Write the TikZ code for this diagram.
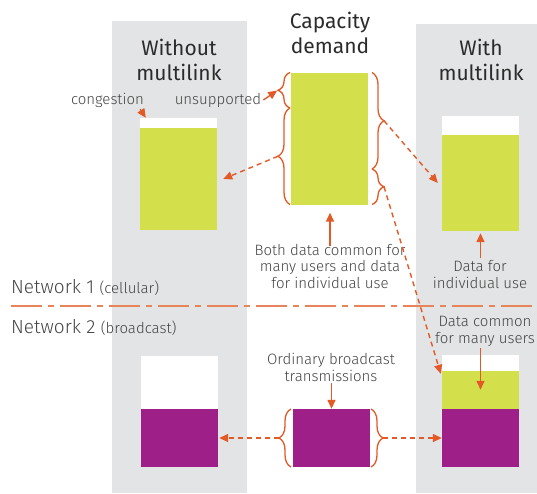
\documentclass[tikz,border=0pt]{standalone}
\usepackage{fontspec}
\setmainfont{Fira Sans}[UprightFont=* Light]
\newfontfamily\headfont{Fira Sans}
\usetikzlibrary{arrows.meta,decorations.pathreplacing}

\definecolor{panelgray}{HTML}{E3E4E6}
\definecolor{limegreen}{HTML}{D4DF4C}
\definecolor{plum}{HTML}{9E1F88}
\definecolor{rust}{HTML}{E35A26}
\definecolor{rustlight}{HTML}{E8845A}
\definecolor{inkdark}{HTML}{2B2B2B}
\definecolor{inkgray}{HTML}{444444}

\tikzset{
  bar/.style={rectangle, inner sep=0pt, minimum width=77pt},
  conn/.style={draw=rust, line width=1.4pt, -{Triangle[length=9pt,width=8pt]}},
  dconn/.style={conn, dash pattern=on 5pt off 4pt},
  bracestyle/.style={draw=rust, line width=1.3pt, decorate,
    decoration={brace, amplitude=12pt}},
  title/.style={font=\headfont\fontsize{21}{25}\selectfont, text=inkdark, align=center, inner sep=0pt},
  label/.style={font=\fontsize{15}{16.5}\selectfont, text=inkgray, align=center, inner sep=2pt},
  netlabel/.style={font=\fontsize{19}{22}\selectfont, text=inkgray, inner sep=0pt, anchor=base west},
}

\begin{document}
\begin{tikzpicture}[x=1pt,y=-1pt]
\useasboundingbox (0,0) rectangle (537,493);

% grey columns behind the two network views
\fill[panelgray] (112,21) rectangle (247,493);
\fill[panelgray] (416,24) rectangle (537,493);

% column titles (anchored on the baseline of their last line)
\node[title, anchor=base] (without) at (179,80) {Without\\multilink};
\node[title, anchor=base] (capacity) at (330,53) {Capacity\\demand};
\node[title, anchor=base] (with) at (481,80) {With\\multilink};

% network 1 bars
\node[bar, fill=white, minimum height=112pt] (lcap) at (178.5,174) {};
\node[bar, fill=limegreen, minimum height=102pt] (lused) at (178.5,179) {};
\node[bar, fill=limegreen, minimum height=132pt] (demand) at (329.5,138.5) {};
\node[bar, fill=white, minimum height=115pt] (rcap) at (480.5,173.5) {};
\node[bar, fill=limegreen, minimum height=96pt] (rused) at (480.5,183) {};

% network 2 bars
\node[bar, fill=white, minimum height=111pt] (lcap2) at (179.5,411.5) {};
\node[bar, fill=plum, minimum height=58pt] (lpurp) at (179.5,438) {};
\node[bar, fill=plum, minimum height=58pt] (cpurp) at (331.5,438) {};
\node[bar, fill=white, minimum height=112pt] (rcap2) at (480.5,411) {};
\node[bar, fill=limegreen, minimum height=37.5pt] (rcommon) at (480.5,389.75) {};
\node[bar, fill=plum, minimum height=58pt] (rpurp) at (480.5,438) {};

% separator between the two networks
\draw[rustlight, line width=2.5pt, dash pattern=on 31pt off 6pt on 6pt off 6pt] (11,306) -- (537,306);
\node[netlabel] (net1) at (11,293) {Network 1 {\fontsize{15}{16}\selectfont(cellular)}};
\node[netlabel] (net2) at (11,333) {Network 2 {\fontsize{15}{16}\selectfont(broadcast)}};

% labels
\node[label, anchor=base] (congestion) at (107.5,104) {congestion};
\node[label, anchor=base] (unsupported) at (218,104) {unsupported};
\node[label, anchor=base] (both) at (330,288) {Both data common for\\many users and data\\for individual use};
\node[label, anchor=base] (dataind) at (480,288) {Data for\\individual use};
\node[label, anchor=base] (datacommon) at (485,343) {Data common\\for many users};
\node[label, anchor=base] (ordinary) at (331,381) {Ordinary broadcast\\transmissions};

% braces around the demand bar
\draw[bracestyle] (290,108) -- (290,72.5);
\draw[bracestyle] (290,204.5) -- (290,108);
\draw[bracestyle] (372,72.5) -- (372,169);
\draw[bracestyle] (372,169) -- (372,204.5);
\coordinate (bTopL) at (278,90);
\coordinate (bLowL) at (278,156.25);
\coordinate (bBigR) at (384,120.75);
\coordinate (bSmallR) at (384,186.75);

% braces around the broadcast bar
\draw[bracestyle] (291,467) -- (291,409);
\draw[bracestyle] (371,409) -- (371,467);
\coordinate (bBcL) at (279,438);
\coordinate (bBcR) at (383,438);

% connectors
\draw[conn] ([xshift=-6pt]congestion.south east) -- ([xshift=6pt]lcap.north west);
\draw[conn, shorten >=1pt] (unsupported.east) -- (bTopL);
\draw[dconn] (bLowL) -- ([xshift=6pt]lused.east);
\draw[dconn] (bBigR) -- ([xshift=-4pt]rused.west);
\draw[dconn] (bSmallR) -- ([shift={(-1,3)}]rcommon.north west);
\draw[dconn, shorten >=1pt] (bBcL) -- (lpurp.east);
\draw[dconn] (bBcR) -- (rpurp.west);
\draw[conn, shorten <=-4pt, shorten >=8pt] (both.north) -- (both.north |- demand.south);
\draw[conn, shorten >=2pt] (rused.south |- dataind.north) -- (rused.south);
\draw[conn] (rcommon.north |- datacommon.south) -- (rcommon.center);
\draw[conn] (cpurp.north |- ordinary.south) -- (cpurp.north);
\end{tikzpicture}
\end{document}
